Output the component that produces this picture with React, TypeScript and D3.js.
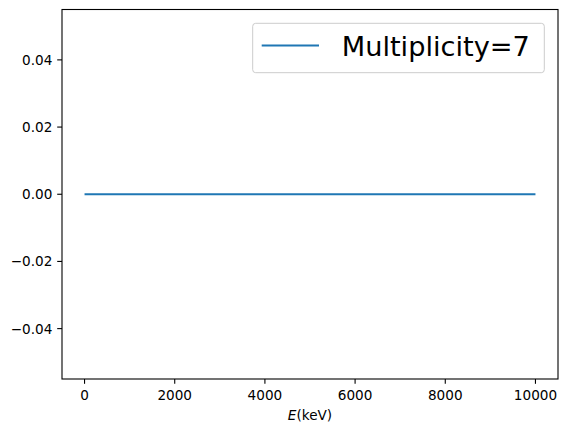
import React from "react";
import * as d3 from "d3";

const energies = [0, 1000, 2000, 3000, 4000, 5000, 6000, 7000, 8000, 9000, 10000];
const counts = [0, 0, 0, 0, 0, 0, 0, 0, 0, 0, 0];
const xTicks = [0, 2000, 4000, 6000, 8000, 10000];
const yTicks = [-0.04, -0.02, 0, 0.02, 0.04];
const legendLabel = "Multiplicity=7";

const W = 567;
const H = 434;
const left = 62;
const right = 558;
const top = 9.5;
const bottom = 379;
const font = "'DejaVu Sans', sans-serif";

export default function App() {
  const x = d3.scaleLinear().domain([-500, 10500]).range([left, right]);
  const y = d3.scaleLinear().domain([-0.055, 0.055]).range([bottom, top]);
  const line = d3
    .line<number>()
    .x((_, i) => x(energies[i]))
    .y((d) => y(d));
  const color = "#1f77b4";
  return (
    <svg
      width={W}
      height={H}
      style={{ position: "absolute", left: 0, top: 0 }}
      fontFamily={font}
    >
      <rect x={0} y={0} width={W} height={H} fill="#fff" />
      <path d={line(counts) || ""} fill="none" stroke={color} strokeWidth={2} />
      {/* axes frame */}
      <rect
        x={left}
        y={top}
        width={right - left}
        height={bottom - top}
        fill="none"
        stroke="#000"
        strokeWidth={1.1}
      />
      {xTicks.map((t) => (
        <g key={"x" + t}>
          <line x1={x(t)} x2={x(t)} y1={bottom} y2={bottom + 4.8} stroke="#000" strokeWidth={1.1} />
          <text x={x(t)} y={400} fontSize={13.6} textAnchor="middle" fill="#000">
            {t}
          </text>
        </g>
      ))}
      {yTicks.map((t) => (
        <g key={"y" + t}>
          <line x1={left - 4.8} x2={left} y1={y(t)} y2={y(t)} stroke="#000" strokeWidth={1.1} />
          <text
            x={left - 9.6}
            y={y(t)}
            fontSize={13.6}
            textAnchor="end"
            dominantBaseline="central"
            fill="#000"
          >
            {t.toFixed(2).replace("-", "\u2212")}
          </text>
        </g>
      ))}
      <text x={(left + right) / 2} y={420} fontSize={13.6} textAnchor="middle" fill="#000">
        <tspan fontStyle="italic">E</tspan>
        <tspan>(keV)</tspan>
      </text>
      {/* legend */}
      <rect
        x={252.7}
        y={23.3}
        width={291.6}
        height={49.4}
        rx={3}
        ry={3}
        fill="#fff"
        fillOpacity={0.8}
        stroke="#cccccc"
        strokeWidth={1}
      />
      <line x1={261.7} x2={319} y1={45.5} y2={45.5} stroke={color} strokeWidth={2} />
      <text x={341.7} y={55.5} fontSize={27.2} fill="#000">
        {legendLabel}
      </text>
    </svg>
  );
}
